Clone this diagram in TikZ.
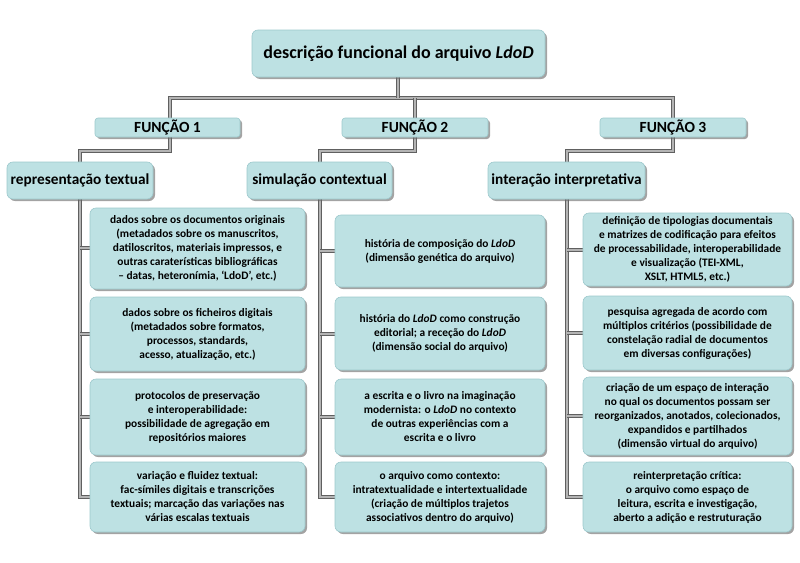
\documentclass[tikz,border=0pt]{standalone}
\usepackage{fontspec}
\setmainfont{Carlito}
\usetikzlibrary{shadows}
\definecolor{boxfill}{HTML}{BDE1E3}
\definecolor{boxline}{HTML}{9CC8CC}
\definecolor{conn}{HTML}{B4B4B4}
\tikzset{
 bx/.style={draw=boxline,fill=boxfill,rounded corners=6pt,line width=0.6pt,
   drop shadow={shadow xshift=2pt,shadow yshift=-2pt,fill=black!60,opacity=0.6},
   font=\bfseries,align=center,inner sep=1pt},
 cl/.style={draw=gray!75!black,line width=0.9pt,double=conn,double distance=2.2pt}
}
\begin{document}
\begin{tikzpicture}[x=1pt,y=-1pt]
\useasboundingbox (0,0) rectangle (800,562);
\draw[cl] (170,118) -- (170,98) -- (673,98) -- (673,118);
\draw[cl] (398,77) -- (398,98);
\draw[cl] (415,98) -- (415,118);
\draw[cl] (170,137) -- (170,151) -- (80,151) -- (80,162);
\draw[cl] (415,137) -- (415,151) -- (320,151) -- (320,162);
\draw[cl] (673,137) -- (673,151) -- (567,151) -- (567,162);
\draw[cl] (80,199) -- (80,497) -- (90,497);
\foreach \y in {248,334,417} \draw[cl] (80,\y) -- (90,\y);
\draw[cl] (320,199) -- (320,497) -- (335,497);
\foreach \y in {251,334,417} \draw[cl] (320,\y) -- (335,\y);
\draw[cl] (567,199) -- (567,497) -- (583,497);
\foreach \y in {250,333,416} \draw[cl] (567,\y) -- (583,\y);

\node[bx,minimum width=293pt,minimum height=47pt,font=\bfseries\fontsize{18}{20}\selectfont] (title) at (398.5,53.5) {descrição funcional do arquivo \textit{LdoD}};
\node[bx,rounded corners=3pt,minimum width=145pt,minimum height=19pt,font=\bfseries\fontsize{15.5}{16}\selectfont] (f1) at (167.5,127.5) {FUNÇÃO 1};
\node[bx,rounded corners=3pt,minimum width=146pt,minimum height=19pt,font=\bfseries\fontsize{15.5}{16}\selectfont] (f2) at (415,127.5) {FUNÇÃO 2};
\node[bx,rounded corners=3pt,minimum width=146pt,minimum height=19pt,font=\bfseries\fontsize{15.5}{16}\selectfont] (f3) at (673,127.5) {FUNÇÃO 3};
\node[bx,minimum width=146pt,minimum height=37pt,font=\bfseries\fontsize{15.3}{17}\selectfont] (r1) at (80,180.5) {representação textual};
\node[bx,minimum width=145pt,minimum height=37pt,font=\bfseries\fontsize{15.3}{17}\selectfont] (r2) at (319.5,180.5) {simulação contextual};
\node[bx,minimum width=157pt,minimum height=37pt,font=\bfseries\fontsize{15.3}{17}\selectfont] (r3) at (566.5,180.5) {interação interpretativa};

\tikzset{sb/.style={bx,font=\bfseries\fontsize{11.4}{14}\selectfont,minimum width=215pt}}
\tikzset{sc/.style={bx,font=\bfseries\fontsize{11.4}{14}\selectfont,minimum width=210pt}}
\node[sb,minimum height=81pt] (a1) at (197.5,248.5) {dados sobre os documentos originais\\(metadados sobre os manuscritos,\\datiloscritos, materiais impressos, e\\outras caraterísticas bibliográficas\\– datas, heteronímia, ‘LdoD’, etc.)};
\node[sb,minimum height=74pt] (a2) at (197.5,334) {dados sobre os ficheiros digitais\\(metadados sobre formatos,\\processos, standards,\\acesso, atualização, etc.)};
\node[sb,minimum height=76pt] (a3) at (197.5,417) {protocolos de preservação\\e interoperabilidade:\\possibilidade de agregação em\\repositórios maiores};
\node[sb,minimum height=70pt] (a4) at (197.5,497) {variação e fluidez textual:\\fac-símiles digitais e transcrições\\textuais; marcação das variações nas\\várias escalas textuais};

\node[sc,minimum height=72pt] (b1) at (440,251) {história de composição do \textit{LdoD}\\(dimensão genética do arquivo)};
\node[sc,minimum height=73pt] (b2) at (440,333.5) {história do \textit{LdoD} como construção\\editorial; a receção do \textit{LdoD}\\(dimensão social do arquivo)};
\node[sc,minimum height=76pt] (b3) at (440,417) {a escrita e o livro na imaginação\\modernista: o \textit{LdoD} no contexto\\de outras experiências com a\\escrita e o livro};
\node[sc,minimum height=70pt] (b4) at (440,497) {o arquivo como contexto:\\intratextualidade e intertextualidade\\(criação de múltiplos trajetos\\associativos dentro do arquivo)};

\node[sb,minimum width=209pt,minimum height=73pt] (c1) at (687.5,249.5) {definição de tipologias documentais\\e matrizes de codificação para efeitos\\de processabilidade, interoperabilidade\\e visualização (TEI-XML,\\XSLT, HTML5, etc.)};
\node[sb,minimum width=209pt,minimum height=74pt] (c2) at (687.5,333) {pesquisa agregada de acordo com\\múltiplos critérios (possibilidade de\\constelação radial de documentos\\em diversas configurações)};
\node[sb,minimum width=209pt,minimum height=78pt] (c3) at (687.5,416) {criação de um espaço de interação\\no qual os documentos possam ser\\reorganizados, anotados, colecionados,\\expandidos e partilhados\\(dimensão virtual do arquivo)};
\node[sb,minimum width=209pt,minimum height=70pt] (c4) at (687.5,497) {reinterpretação crítica:\\o arquivo como espaço  de\\leitura, escrita e investigação,\\aberto a adição e restruturação};
\end{tikzpicture}
\end{document}
